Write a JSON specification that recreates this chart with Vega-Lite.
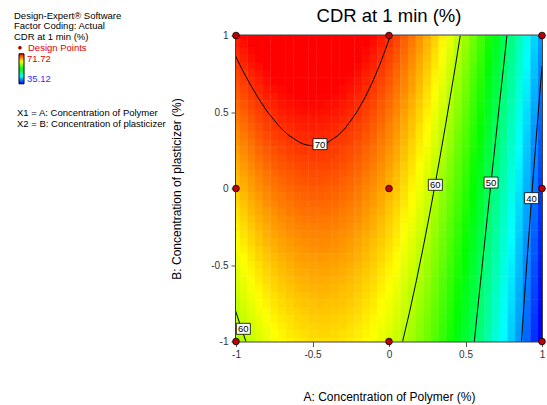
{
"$schema":"https://vega.github.io/schema/vega-lite/v6.json",
"padding":{"left":0,"top":5.5,"right":0,"bottom":0},
"background":"white",
"spacing":0,
"config":{"font":"Liberation Sans","view":{"stroke":"transparent"}},
"resolve":{"scale":{"color":"shared"},"legend":{"color":"shared"}},
"datasets":{
"notes":[{"line":0,"kind":"head","txt":"Design-Expert® Software"},{"line":1,"kind":"head","txt":"Factor Coding: Actual"},{"line":2,"kind":"head","txt":"CDR at 1 min (%)"},{"line":3,"kind":"dp","txt":"Design Points"},{"line":9,"kind":"var","txt":"X1 = A: Concentration of Polymer"},{"line":10,"kind":"var","txt":"X2 = B: Concentration of  plasticizer"}],
"design":[{"a":-1,"b":-1},{"a":0,"b":-1},{"a":1,"b":-1},{"a":-1,"b":0},{"a":0,"b":0},{"a":1,"b":0},{"a":-1,"b":1},{"a":0,"b":1},{"a":1,"b":1}],
"labels":[{"a":-0.451,"b":0.29,"t":"70"},{"a":0.303,"b":0.024,"t":"60"},{"a":0.667,"b":0.039,"t":"50"},{"a":0.932,"b":-0.063,"t":"40"},{"a":-0.952,"b":-0.917,"t":"60"}],
"contours":[
{"lvl":"70","i":0,"a":-1.065,"b":1.0},{"lvl":"70","i":1,"a":-1.019,"b":0.9},{"lvl":"70","i":2,"a":-0.971,"b":0.8},{"lvl":"70","i":3,"a":-0.918,"b":0.7},{"lvl":"70","i":4,"a":-0.860,"b":0.6},{"lvl":"70","i":5,"a":-0.794,"b":0.5},{"lvl":"70","i":6,"a":-0.712,"b":0.4},{"lvl":"70","i":7,"a":-0.659,"b":0.35},{"lvl":"70","i":8,"a":-0.582,"b":0.3},{"lvl":"70","i":9,"a":-0.557,"b":0.29},{"lvl":"70","i":10,"a":-0.541,"b":0.285},{"lvl":"70","i":11,"a":-0.49,"b":0.278},{"lvl":"70","i":12,"a":-0.44,"b":0.285},{"lvl":"70","i":13,"a":-0.424,"b":0.29},{"lvl":"70","i":14,"a":-0.401,"b":0.3},{"lvl":"70","i":15,"a":-0.329,"b":0.35},{"lvl":"70","i":16,"a":-0.281,"b":0.4},{"lvl":"70","i":17,"a":-0.21,"b":0.5},{"lvl":"70","i":18,"a":-0.154,"b":0.6},{"lvl":"70","i":19,"a":-0.106,"b":0.7},{"lvl":"70","i":20,"a":-0.064,"b":0.8},{"lvl":"70","i":21,"a":-0.026,"b":0.9},{"lvl":"70","i":22,"a":0.009,"b":1.0},
{"lvl":"60","i":0,"a":0.089,"b":-1},{"lvl":"60","i":1,"a":0.136,"b":-0.8},{"lvl":"60","i":2,"a":0.1795,"b":-0.6},{"lvl":"60","i":3,"a":0.2204,"b":-0.4},{"lvl":"60","i":4,"a":0.2593,"b":-0.2},{"lvl":"60","i":5,"a":0.2965,"b":0},{"lvl":"60","i":6,"a":0.3324,"b":0.2},{"lvl":"60","i":7,"a":0.3671,"b":0.4},{"lvl":"60","i":8,"a":0.4008,"b":0.6},{"lvl":"60","i":9,"a":0.4338,"b":0.8},{"lvl":"60","i":10,"a":0.4659,"b":1},
{"lvl":"60b","i":0,"a":-1.003,"b":-0.8},{"lvl":"60b","i":1,"a":-0.9696,"b":-0.9},{"lvl":"60b","i":2,"a":-0.935,"b":-1},
{"lvl":"50","i":0,"a":0.5575,"b":-1},{"lvl":"50","i":1,"a":0.5991,"b":-0.6},{"lvl":"50","i":2,"a":0.6412,"b":-0.2},{"lvl":"50","i":3,"a":0.6626,"b":0},{"lvl":"50","i":4,"a":0.6841,"b":0.2},{"lvl":"50","i":5,"a":0.7273,"b":0.6},{"lvl":"50","i":6,"a":0.7709,"b":1},
{"lvl":"40","i":0,"a":0.8657,"b":-1},{"lvl":"40","i":1,"a":0.8929,"b":-0.6},{"lvl":"40","i":2,"a":0.9218,"b":-0.2},{"lvl":"40","i":3,"a":0.9367,"b":0},{"lvl":"40","i":4,"a":0.9521,"b":0.2},{"lvl":"40","i":5,"a":0.9678,"b":0.4},{"lvl":"40","i":6,"a":0.9839,"b":0.6},{"lvl":"40","i":7,"a":0.992,"b":0.7},{"lvl":"40","i":8,"a":1.0002,"b":0.8}
],
"grid":[
{"a":-1,"b":-1,"v":59.0},{"a":-0.95,"b":-1,"v":59.8},{"a":-0.9,"b":-1,"v":60.5},{"a":-0.85,"b":-1,"v":61.1},{"a":-0.8,"b":-1,"v":61.7},{"a":-0.75,"b":-1,"v":62.2},{"a":-0.7,"b":-1,"v":62.7},{"a":-0.65,"b":-1,"v":63.0},{"a":-0.6,"b":-1,"v":63.3},{"a":-0.55,"b":-1,"v":63.5},{"a":-0.5,"b":-1,"v":63.7},{"a":-0.45,"b":-1,"v":63.7},{"a":-0.4,"b":-1,"v":63.7},{"a":-0.35,"b":-1,"v":63.7},{"a":-0.3,"b":-1,"v":63.5},{"a":-0.25,"b":-1,"v":63.3},{"a":-0.2,"b":-1,"v":63.0},{"a":-0.15,"b":-1,"v":62.7},{"a":-0.1,"b":-1,"v":62.3},{"a":-0.05,"b":-1,"v":61.8},{"a":0,"b":-1,"v":61.2},{"a":0.05,"b":-1,"v":60.5},{"a":0.1,"b":-1,"v":59.8},{"a":0.15,"b":-1,"v":59.1},{"a":0.2,"b":-1,"v":58.2},{"a":0.25,"b":-1,"v":57.3},{"a":0.3,"b":-1,"v":56.3},{"a":0.35,"b":-1,"v":55.2},{"a":0.4,"b":-1,"v":54.1},{"a":0.45,"b":-1,"v":52.8},{"a":0.5,"b":-1,"v":51.6},{"a":0.55,"b":-1,"v":50.2},{"a":0.6,"b":-1,"v":48.8},{"a":0.65,"b":-1,"v":47.3},{"a":0.7,"b":-1,"v":45.7},{"a":0.75,"b":-1,"v":44.1},{"a":0.8,"b":-1,"v":42.4},{"a":0.85,"b":-1,"v":40.6},{"a":0.9,"b":-1,"v":38.7},{"a":0.95,"b":-1,"v":36.8},{"a":1,"b":-1,"v":34.8},
{"a":-1,"b":-0.9,"v":59.5},{"a":-0.95,"b":-0.9,"v":60.3},{"a":-0.9,"b":-0.9,"v":61.0},{"a":-0.85,"b":-0.9,"v":61.6},{"a":-0.8,"b":-0.9,"v":62.2},{"a":-0.75,"b":-0.9,"v":62.7},{"a":-0.7,"b":-0.9,"v":63.1},{"a":-0.65,"b":-0.9,"v":63.5},{"a":-0.6,"b":-0.9,"v":63.8},{"a":-0.55,"b":-0.9,"v":64.0},{"a":-0.5,"b":-0.9,"v":64.1},{"a":-0.45,"b":-0.9,"v":64.2},{"a":-0.4,"b":-0.9,"v":64.2},{"a":-0.35,"b":-0.9,"v":64.1},{"a":-0.3,"b":-0.9,"v":64.0},{"a":-0.25,"b":-0.9,"v":63.7},{"a":-0.2,"b":-0.9,"v":63.4},{"a":-0.15,"b":-0.9,"v":63.1},{"a":-0.1,"b":-0.9,"v":62.7},{"a":-0.05,"b":-0.9,"v":62.1},{"a":0,"b":-0.9,"v":61.6},{"a":0.05,"b":-0.9,"v":60.9},{"a":0.1,"b":-0.9,"v":60.2},{"a":0.15,"b":-0.9,"v":59.4},{"a":0.2,"b":-0.9,"v":58.5},{"a":0.25,"b":-0.9,"v":57.6},{"a":0.3,"b":-0.9,"v":56.6},{"a":0.35,"b":-0.9,"v":55.5},{"a":0.4,"b":-0.9,"v":54.4},{"a":0.45,"b":-0.9,"v":53.2},{"a":0.5,"b":-0.9,"v":51.9},{"a":0.55,"b":-0.9,"v":50.5},{"a":0.6,"b":-0.9,"v":49.1},{"a":0.65,"b":-0.9,"v":47.6},{"a":0.7,"b":-0.9,"v":46.0},{"a":0.75,"b":-0.9,"v":44.3},{"a":0.8,"b":-0.9,"v":42.6},{"a":0.85,"b":-0.9,"v":40.8},{"a":0.9,"b":-0.9,"v":39.0},{"a":0.95,"b":-0.9,"v":37.0},{"a":1,"b":-0.9,"v":35.0},
{"a":-1,"b":-0.8,"v":60.1},{"a":-0.95,"b":-0.8,"v":60.8},{"a":-0.9,"b":-0.8,"v":61.5},{"a":-0.85,"b":-0.8,"v":62.2},{"a":-0.8,"b":-0.8,"v":62.7},{"a":-0.75,"b":-0.8,"v":63.2},{"a":-0.7,"b":-0.8,"v":63.6},{"a":-0.65,"b":-0.8,"v":64.0},{"a":-0.6,"b":-0.8,"v":64.2},{"a":-0.55,"b":-0.8,"v":64.4},{"a":-0.5,"b":-0.8,"v":64.6},{"a":-0.45,"b":-0.8,"v":64.6},{"a":-0.4,"b":-0.8,"v":64.6},{"a":-0.35,"b":-0.8,"v":64.5},{"a":-0.3,"b":-0.8,"v":64.4},{"a":-0.25,"b":-0.8,"v":64.2},{"a":-0.2,"b":-0.8,"v":63.9},{"a":-0.15,"b":-0.8,"v":63.5},{"a":-0.1,"b":-0.8,"v":63.1},{"a":-0.05,"b":-0.8,"v":62.5},{"a":0,"b":-0.8,"v":62.0},{"a":0.05,"b":-0.8,"v":61.3},{"a":0.1,"b":-0.8,"v":60.6},{"a":0.15,"b":-0.8,"v":59.8},{"a":0.2,"b":-0.8,"v":58.9},{"a":0.25,"b":-0.8,"v":58.0},{"a":0.3,"b":-0.8,"v":56.9},{"a":0.35,"b":-0.8,"v":55.9},{"a":0.4,"b":-0.8,"v":54.7},{"a":0.45,"b":-0.8,"v":53.5},{"a":0.5,"b":-0.8,"v":52.2},{"a":0.55,"b":-0.8,"v":50.8},{"a":0.6,"b":-0.8,"v":49.4},{"a":0.65,"b":-0.8,"v":47.9},{"a":0.7,"b":-0.8,"v":46.3},{"a":0.75,"b":-0.8,"v":44.6},{"a":0.8,"b":-0.8,"v":42.9},{"a":0.85,"b":-0.8,"v":41.1},{"a":0.9,"b":-0.8,"v":39.2},{"a":0.95,"b":-0.8,"v":37.3},{"a":1,"b":-0.8,"v":35.3},
{"a":-1,"b":-0.7,"v":60.6},{"a":-0.95,"b":-0.7,"v":61.4},{"a":-0.9,"b":-0.7,"v":62.1},{"a":-0.85,"b":-0.7,"v":62.7},{"a":-0.8,"b":-0.7,"v":63.2},{"a":-0.75,"b":-0.7,"v":63.7},{"a":-0.7,"b":-0.7,"v":64.1},{"a":-0.65,"b":-0.7,"v":64.5},{"a":-0.6,"b":-0.7,"v":64.7},{"a":-0.55,"b":-0.7,"v":64.9},{"a":-0.5,"b":-0.7,"v":65.0},{"a":-0.45,"b":-0.7,"v":65.1},{"a":-0.4,"b":-0.7,"v":65.1},{"a":-0.35,"b":-0.7,"v":65.0},{"a":-0.3,"b":-0.7,"v":64.8},{"a":-0.25,"b":-0.7,"v":64.6},{"a":-0.2,"b":-0.7,"v":64.3},{"a":-0.15,"b":-0.7,"v":63.9},{"a":-0.1,"b":-0.7,"v":63.5},{"a":-0.05,"b":-0.7,"v":62.9},{"a":0,"b":-0.7,"v":62.3},{"a":0.05,"b":-0.7,"v":61.7},{"a":0.1,"b":-0.7,"v":60.9},{"a":0.15,"b":-0.7,"v":60.1},{"a":0.2,"b":-0.7,"v":59.3},{"a":0.25,"b":-0.7,"v":58.3},{"a":0.3,"b":-0.7,"v":57.3},{"a":0.35,"b":-0.7,"v":56.2},{"a":0.4,"b":-0.7,"v":55.0},{"a":0.45,"b":-0.7,"v":53.8},{"a":0.5,"b":-0.7,"v":52.5},{"a":0.55,"b":-0.7,"v":51.1},{"a":0.6,"b":-0.7,"v":49.7},{"a":0.65,"b":-0.7,"v":48.1},{"a":0.7,"b":-0.7,"v":46.5},{"a":0.75,"b":-0.7,"v":44.9},{"a":0.8,"b":-0.7,"v":43.2},{"a":0.85,"b":-0.7,"v":41.3},{"a":0.9,"b":-0.7,"v":39.5},{"a":0.95,"b":-0.7,"v":37.5},{"a":1,"b":-0.7,"v":35.5},
{"a":-1,"b":-0.6,"v":61.1},{"a":-0.95,"b":-0.6,"v":61.9},{"a":-0.9,"b":-0.6,"v":62.6},{"a":-0.85,"b":-0.6,"v":63.2},{"a":-0.8,"b":-0.6,"v":63.8},{"a":-0.75,"b":-0.6,"v":64.2},{"a":-0.7,"b":-0.6,"v":64.6},{"a":-0.65,"b":-0.6,"v":65.0},{"a":-0.6,"b":-0.6,"v":65.2},{"a":-0.55,"b":-0.6,"v":65.4},{"a":-0.5,"b":-0.6,"v":65.5},{"a":-0.45,"b":-0.6,"v":65.6},{"a":-0.4,"b":-0.6,"v":65.5},{"a":-0.35,"b":-0.6,"v":65.4},{"a":-0.3,"b":-0.6,"v":65.3},{"a":-0.25,"b":-0.6,"v":65.0},{"a":-0.2,"b":-0.6,"v":64.7},{"a":-0.15,"b":-0.6,"v":64.3},{"a":-0.1,"b":-0.6,"v":63.9},{"a":-0.05,"b":-0.6,"v":63.3},{"a":0,"b":-0.6,"v":62.7},{"a":0.05,"b":-0.6,"v":62.1},{"a":0.1,"b":-0.6,"v":61.3},{"a":0.15,"b":-0.6,"v":60.5},{"a":0.2,"b":-0.6,"v":59.6},{"a":0.25,"b":-0.6,"v":58.7},{"a":0.3,"b":-0.6,"v":57.6},{"a":0.35,"b":-0.6,"v":56.5},{"a":0.4,"b":-0.6,"v":55.4},{"a":0.45,"b":-0.6,"v":54.1},{"a":0.5,"b":-0.6,"v":52.8},{"a":0.55,"b":-0.6,"v":51.4},{"a":0.6,"b":-0.6,"v":50.0},{"a":0.65,"b":-0.6,"v":48.4},{"a":0.7,"b":-0.6,"v":46.8},{"a":0.75,"b":-0.6,"v":45.2},{"a":0.8,"b":-0.6,"v":43.4},{"a":0.85,"b":-0.6,"v":41.6},{"a":0.9,"b":-0.6,"v":39.7},{"a":0.95,"b":-0.6,"v":37.8},{"a":1,"b":-0.6,"v":35.7},
{"a":-1,"b":-0.5,"v":61.7},{"a":-0.95,"b":-0.5,"v":62.4},{"a":-0.9,"b":-0.5,"v":63.1},{"a":-0.85,"b":-0.5,"v":63.7},{"a":-0.8,"b":-0.5,"v":64.3},{"a":-0.75,"b":-0.5,"v":64.7},{"a":-0.7,"b":-0.5,"v":65.1},{"a":-0.65,"b":-0.5,"v":65.5},{"a":-0.6,"b":-0.5,"v":65.7},{"a":-0.55,"b":-0.5,"v":65.9},{"a":-0.5,"b":-0.5,"v":66.0},{"a":-0.45,"b":-0.5,"v":66.0},{"a":-0.4,"b":-0.5,"v":66.0},{"a":-0.35,"b":-0.5,"v":65.9},{"a":-0.3,"b":-0.5,"v":65.7},{"a":-0.25,"b":-0.5,"v":65.5},{"a":-0.2,"b":-0.5,"v":65.1},{"a":-0.15,"b":-0.5,"v":64.8},{"a":-0.1,"b":-0.5,"v":64.3},{"a":-0.05,"b":-0.5,"v":63.7},{"a":0,"b":-0.5,"v":63.1},{"a":0.05,"b":-0.5,"v":62.5},{"a":0.1,"b":-0.5,"v":61.7},{"a":0.15,"b":-0.5,"v":60.9},{"a":0.2,"b":-0.5,"v":60.0},{"a":0.25,"b":-0.5,"v":59.0},{"a":0.3,"b":-0.5,"v":58.0},{"a":0.35,"b":-0.5,"v":56.9},{"a":0.4,"b":-0.5,"v":55.7},{"a":0.45,"b":-0.5,"v":54.5},{"a":0.5,"b":-0.5,"v":53.2},{"a":0.55,"b":-0.5,"v":51.7},{"a":0.6,"b":-0.5,"v":50.3},{"a":0.65,"b":-0.5,"v":48.8},{"a":0.7,"b":-0.5,"v":47.1},{"a":0.75,"b":-0.5,"v":45.5},{"a":0.8,"b":-0.5,"v":43.7},{"a":0.85,"b":-0.5,"v":41.9},{"a":0.9,"b":-0.5,"v":40.0},{"a":0.95,"b":-0.5,"v":38.0},{"a":1,"b":-0.5,"v":36.0},
{"a":-1,"b":-0.4,"v":62.3},{"a":-0.95,"b":-0.4,"v":63.0},{"a":-0.9,"b":-0.4,"v":63.7},{"a":-0.85,"b":-0.4,"v":64.3},{"a":-0.8,"b":-0.4,"v":64.8},{"a":-0.75,"b":-0.4,"v":65.3},{"a":-0.7,"b":-0.4,"v":65.7},{"a":-0.65,"b":-0.4,"v":66.0},{"a":-0.6,"b":-0.4,"v":66.2},{"a":-0.55,"b":-0.4,"v":66.4},{"a":-0.5,"b":-0.4,"v":66.5},{"a":-0.45,"b":-0.4,"v":66.5},{"a":-0.4,"b":-0.4,"v":66.5},{"a":-0.35,"b":-0.4,"v":66.4},{"a":-0.3,"b":-0.4,"v":66.2},{"a":-0.25,"b":-0.4,"v":65.9},{"a":-0.2,"b":-0.4,"v":65.6},{"a":-0.15,"b":-0.4,"v":65.2},{"a":-0.1,"b":-0.4,"v":64.7},{"a":-0.05,"b":-0.4,"v":64.2},{"a":0,"b":-0.4,"v":63.6},{"a":0.05,"b":-0.4,"v":62.9},{"a":0.1,"b":-0.4,"v":62.1},{"a":0.15,"b":-0.4,"v":61.3},{"a":0.2,"b":-0.4,"v":60.4},{"a":0.25,"b":-0.4,"v":59.4},{"a":0.3,"b":-0.4,"v":58.4},{"a":0.35,"b":-0.4,"v":57.3},{"a":0.4,"b":-0.4,"v":56.1},{"a":0.45,"b":-0.4,"v":54.8},{"a":0.5,"b":-0.4,"v":53.5},{"a":0.55,"b":-0.4,"v":52.1},{"a":0.6,"b":-0.4,"v":50.6},{"a":0.65,"b":-0.4,"v":49.1},{"a":0.7,"b":-0.4,"v":47.5},{"a":0.75,"b":-0.4,"v":45.8},{"a":0.8,"b":-0.4,"v":44.0},{"a":0.85,"b":-0.4,"v":42.2},{"a":0.9,"b":-0.4,"v":40.3},{"a":0.95,"b":-0.4,"v":38.3},{"a":1,"b":-0.4,"v":36.3},
{"a":-1,"b":-0.3,"v":62.8},{"a":-0.95,"b":-0.3,"v":63.6},{"a":-0.9,"b":-0.3,"v":64.2},{"a":-0.85,"b":-0.3,"v":64.8},{"a":-0.8,"b":-0.3,"v":65.4},{"a":-0.75,"b":-0.3,"v":65.8},{"a":-0.7,"b":-0.3,"v":66.2},{"a":-0.65,"b":-0.3,"v":66.5},{"a":-0.6,"b":-0.3,"v":66.7},{"a":-0.55,"b":-0.3,"v":66.9},{"a":-0.5,"b":-0.3,"v":67.0},{"a":-0.45,"b":-0.3,"v":67.0},{"a":-0.4,"b":-0.3,"v":67.0},{"a":-0.35,"b":-0.3,"v":66.8},{"a":-0.3,"b":-0.3,"v":66.6},{"a":-0.25,"b":-0.3,"v":66.4},{"a":-0.2,"b":-0.3,"v":66.0},{"a":-0.15,"b":-0.3,"v":65.6},{"a":-0.1,"b":-0.3,"v":65.2},{"a":-0.05,"b":-0.3,"v":64.6},{"a":0,"b":-0.3,"v":64.0},{"a":0.05,"b":-0.3,"v":63.3},{"a":0.1,"b":-0.3,"v":62.5},{"a":0.15,"b":-0.3,"v":61.7},{"a":0.2,"b":-0.3,"v":60.8},{"a":0.25,"b":-0.3,"v":59.8},{"a":0.3,"b":-0.3,"v":58.7},{"a":0.35,"b":-0.3,"v":57.6},{"a":0.4,"b":-0.3,"v":56.4},{"a":0.45,"b":-0.3,"v":55.2},{"a":0.5,"b":-0.3,"v":53.8},{"a":0.55,"b":-0.3,"v":52.4},{"a":0.6,"b":-0.3,"v":50.9},{"a":0.65,"b":-0.3,"v":49.4},{"a":0.7,"b":-0.3,"v":47.8},{"a":0.75,"b":-0.3,"v":46.1},{"a":0.8,"b":-0.3,"v":44.3},{"a":0.85,"b":-0.3,"v":42.5},{"a":0.9,"b":-0.3,"v":40.6},{"a":0.95,"b":-0.3,"v":38.6},{"a":1,"b":-0.3,"v":36.5},
{"a":-1,"b":-0.2,"v":63.4},{"a":-0.95,"b":-0.2,"v":64.1},{"a":-0.9,"b":-0.2,"v":64.8},{"a":-0.85,"b":-0.2,"v":65.4},{"a":-0.8,"b":-0.2,"v":65.9},{"a":-0.75,"b":-0.2,"v":66.3},{"a":-0.7,"b":-0.2,"v":66.7},{"a":-0.65,"b":-0.2,"v":67.0},{"a":-0.6,"b":-0.2,"v":67.2},{"a":-0.55,"b":-0.2,"v":67.4},{"a":-0.5,"b":-0.2,"v":67.5},{"a":-0.45,"b":-0.2,"v":67.5},{"a":-0.4,"b":-0.2,"v":67.4},{"a":-0.35,"b":-0.2,"v":67.3},{"a":-0.3,"b":-0.2,"v":67.1},{"a":-0.25,"b":-0.2,"v":66.8},{"a":-0.2,"b":-0.2,"v":66.5},{"a":-0.15,"b":-0.2,"v":66.1},{"a":-0.1,"b":-0.2,"v":65.6},{"a":-0.05,"b":-0.2,"v":65.0},{"a":0,"b":-0.2,"v":64.4},{"a":0.05,"b":-0.2,"v":63.7},{"a":0.1,"b":-0.2,"v":62.9},{"a":0.15,"b":-0.2,"v":62.1},{"a":0.2,"b":-0.2,"v":61.2},{"a":0.25,"b":-0.2,"v":60.2},{"a":0.3,"b":-0.2,"v":59.1},{"a":0.35,"b":-0.2,"v":58.0},{"a":0.4,"b":-0.2,"v":56.8},{"a":0.45,"b":-0.2,"v":55.5},{"a":0.5,"b":-0.2,"v":54.2},{"a":0.55,"b":-0.2,"v":52.8},{"a":0.6,"b":-0.2,"v":51.3},{"a":0.65,"b":-0.2,"v":49.7},{"a":0.7,"b":-0.2,"v":48.1},{"a":0.75,"b":-0.2,"v":46.4},{"a":0.8,"b":-0.2,"v":44.6},{"a":0.85,"b":-0.2,"v":42.8},{"a":0.9,"b":-0.2,"v":40.9},{"a":0.95,"b":-0.2,"v":38.9},{"a":1,"b":-0.2,"v":36.8},
{"a":-1,"b":-0.1,"v":64.0},{"a":-0.95,"b":-0.1,"v":64.7},{"a":-0.9,"b":-0.1,"v":65.4},{"a":-0.85,"b":-0.1,"v":65.9},{"a":-0.8,"b":-0.1,"v":66.5},{"a":-0.75,"b":-0.1,"v":66.9},{"a":-0.7,"b":-0.1,"v":67.3},{"a":-0.65,"b":-0.1,"v":67.5},{"a":-0.6,"b":-0.1,"v":67.8},{"a":-0.55,"b":-0.1,"v":67.9},{"a":-0.5,"b":-0.1,"v":68.0},{"a":-0.45,"b":-0.1,"v":68.0},{"a":-0.4,"b":-0.1,"v":67.9},{"a":-0.35,"b":-0.1,"v":67.8},{"a":-0.3,"b":-0.1,"v":67.6},{"a":-0.25,"b":-0.1,"v":67.3},{"a":-0.2,"b":-0.1,"v":67.0},{"a":-0.15,"b":-0.1,"v":66.5},{"a":-0.1,"b":-0.1,"v":66.1},{"a":-0.05,"b":-0.1,"v":65.5},{"a":0,"b":-0.1,"v":64.8},{"a":0.05,"b":-0.1,"v":64.1},{"a":0.1,"b":-0.1,"v":63.4},{"a":0.15,"b":-0.1,"v":62.5},{"a":0.2,"b":-0.1,"v":61.6},{"a":0.25,"b":-0.1,"v":60.6},{"a":0.3,"b":-0.1,"v":59.5},{"a":0.35,"b":-0.1,"v":58.4},{"a":0.4,"b":-0.1,"v":57.2},{"a":0.45,"b":-0.1,"v":55.9},{"a":0.5,"b":-0.1,"v":54.6},{"a":0.55,"b":-0.1,"v":53.1},{"a":0.6,"b":-0.1,"v":51.6},{"a":0.65,"b":-0.1,"v":50.1},{"a":0.7,"b":-0.1,"v":48.4},{"a":0.75,"b":-0.1,"v":46.7},{"a":0.8,"b":-0.1,"v":44.9},{"a":0.85,"b":-0.1,"v":43.1},{"a":0.9,"b":-0.1,"v":41.2},{"a":0.95,"b":-0.1,"v":39.2},{"a":1,"b":-0.1,"v":37.1},
{"a":-1,"b":0,"v":64.6},{"a":-0.95,"b":0,"v":65.3},{"a":-0.9,"b":0,"v":66.0},{"a":-0.85,"b":0,"v":66.5},{"a":-0.8,"b":0,"v":67.0},{"a":-0.75,"b":0,"v":67.5},{"a":-0.7,"b":0,"v":67.8},{"a":-0.65,"b":0,"v":68.1},{"a":-0.6,"b":0,"v":68.3},{"a":-0.55,"b":0,"v":68.4},{"a":-0.5,"b":0,"v":68.5},{"a":-0.45,"b":0,"v":68.5},{"a":-0.4,"b":0,"v":68.4},{"a":-0.35,"b":0,"v":68.3},{"a":-0.3,"b":0,"v":68.1},{"a":-0.25,"b":0,"v":67.8},{"a":-0.2,"b":0,"v":67.4},{"a":-0.15,"b":0,"v":67.0},{"a":-0.1,"b":0,"v":66.5},{"a":-0.05,"b":0,"v":65.9},{"a":0,"b":0,"v":65.3},{"a":0.05,"b":0,"v":64.6},{"a":0.1,"b":0,"v":63.8},{"a":0.15,"b":0,"v":62.9},{"a":0.2,"b":0,"v":62.0},{"a":0.25,"b":0,"v":61.0},{"a":0.3,"b":0,"v":59.9},{"a":0.35,"b":0,"v":58.8},{"a":0.4,"b":0,"v":57.6},{"a":0.45,"b":0,"v":56.3},{"a":0.5,"b":0,"v":54.9},{"a":0.55,"b":0,"v":53.5},{"a":0.6,"b":0,"v":52.0},{"a":0.65,"b":0,"v":50.4},{"a":0.7,"b":0,"v":48.8},{"a":0.75,"b":0,"v":47.1},{"a":0.8,"b":0,"v":45.3},{"a":0.85,"b":0,"v":43.4},{"a":0.9,"b":0,"v":41.5},{"a":0.95,"b":0,"v":39.5},{"a":1,"b":0,"v":37.4},
{"a":-1,"b":0.1,"v":65.2},{"a":-0.95,"b":0.1,"v":65.9},{"a":-0.9,"b":0.1,"v":66.5},{"a":-0.85,"b":0.1,"v":67.1},{"a":-0.8,"b":0.1,"v":67.6},{"a":-0.75,"b":0.1,"v":68.0},{"a":-0.7,"b":0.1,"v":68.4},{"a":-0.65,"b":0.1,"v":68.6},{"a":-0.6,"b":0.1,"v":68.8},{"a":-0.55,"b":0.1,"v":69.0},{"a":-0.5,"b":0.1,"v":69.0},{"a":-0.45,"b":0.1,"v":69.0},{"a":-0.4,"b":0.1,"v":69.0},{"a":-0.35,"b":0.1,"v":68.8},{"a":-0.3,"b":0.1,"v":68.6},{"a":-0.25,"b":0.1,"v":68.3},{"a":-0.2,"b":0.1,"v":67.9},{"a":-0.15,"b":0.1,"v":67.5},{"a":-0.1,"b":0.1,"v":67.0},{"a":-0.05,"b":0.1,"v":66.4},{"a":0,"b":0.1,"v":65.7},{"a":0.05,"b":0.1,"v":65.0},{"a":0.1,"b":0.1,"v":64.2},{"a":0.15,"b":0.1,"v":63.4},{"a":0.2,"b":0.1,"v":62.4},{"a":0.25,"b":0.1,"v":61.4},{"a":0.3,"b":0.1,"v":60.3},{"a":0.35,"b":0.1,"v":59.2},{"a":0.4,"b":0.1,"v":58.0},{"a":0.45,"b":0.1,"v":56.7},{"a":0.5,"b":0.1,"v":55.3},{"a":0.55,"b":0.1,"v":53.8},{"a":0.6,"b":0.1,"v":52.3},{"a":0.65,"b":0.1,"v":50.8},{"a":0.7,"b":0.1,"v":49.1},{"a":0.75,"b":0.1,"v":47.4},{"a":0.8,"b":0.1,"v":45.6},{"a":0.85,"b":0.1,"v":43.7},{"a":0.9,"b":0.1,"v":41.8},{"a":0.95,"b":0.1,"v":39.8},{"a":1,"b":0.1,"v":37.7},
{"a":-1,"b":0.2,"v":65.8},{"a":-0.95,"b":0.2,"v":66.5},{"a":-0.9,"b":0.2,"v":67.1},{"a":-0.85,"b":0.2,"v":67.7},{"a":-0.8,"b":0.2,"v":68.2},{"a":-0.75,"b":0.2,"v":68.6},{"a":-0.7,"b":0.2,"v":68.9},{"a":-0.65,"b":0.2,"v":69.2},{"a":-0.6,"b":0.2,"v":69.4},{"a":-0.55,"b":0.2,"v":69.5},{"a":-0.5,"b":0.2,"v":69.6},{"a":-0.45,"b":0.2,"v":69.6},{"a":-0.4,"b":0.2,"v":69.5},{"a":-0.35,"b":0.2,"v":69.3},{"a":-0.3,"b":0.2,"v":69.1},{"a":-0.25,"b":0.2,"v":68.8},{"a":-0.2,"b":0.2,"v":68.4},{"a":-0.15,"b":0.2,"v":68.0},{"a":-0.1,"b":0.2,"v":67.5},{"a":-0.05,"b":0.2,"v":66.9},{"a":0,"b":0.2,"v":66.2},{"a":0.05,"b":0.2,"v":65.5},{"a":0.1,"b":0.2,"v":64.7},{"a":0.15,"b":0.2,"v":63.8},{"a":0.2,"b":0.2,"v":62.9},{"a":0.25,"b":0.2,"v":61.8},{"a":0.3,"b":0.2,"v":60.7},{"a":0.35,"b":0.2,"v":59.6},{"a":0.4,"b":0.2,"v":58.4},{"a":0.45,"b":0.2,"v":57.0},{"a":0.5,"b":0.2,"v":55.7},{"a":0.55,"b":0.2,"v":54.2},{"a":0.6,"b":0.2,"v":52.7},{"a":0.65,"b":0.2,"v":51.1},{"a":0.7,"b":0.2,"v":49.5},{"a":0.75,"b":0.2,"v":47.7},{"a":0.8,"b":0.2,"v":45.9},{"a":0.85,"b":0.2,"v":44.1},{"a":0.9,"b":0.2,"v":42.1},{"a":0.95,"b":0.2,"v":40.1},{"a":1,"b":0.2,"v":38.0},
{"a":-1,"b":0.3,"v":66.4},{"a":-0.95,"b":0.3,"v":67.1},{"a":-0.9,"b":0.3,"v":67.7},{"a":-0.85,"b":0.3,"v":68.3},{"a":-0.8,"b":0.3,"v":68.8},{"a":-0.75,"b":0.3,"v":69.2},{"a":-0.7,"b":0.3,"v":69.5},{"a":-0.65,"b":0.3,"v":69.8},{"a":-0.6,"b":0.3,"v":69.9},{"a":-0.55,"b":0.3,"v":70.1},{"a":-0.5,"b":0.3,"v":70.1},{"a":-0.45,"b":0.3,"v":70.1},{"a":-0.4,"b":0.3,"v":70.0},{"a":-0.35,"b":0.3,"v":69.8},{"a":-0.3,"b":0.3,"v":69.6},{"a":-0.25,"b":0.3,"v":69.3},{"a":-0.2,"b":0.3,"v":68.9},{"a":-0.15,"b":0.3,"v":68.5},{"a":-0.1,"b":0.3,"v":67.9},{"a":-0.05,"b":0.3,"v":67.3},{"a":0,"b":0.3,"v":66.7},{"a":0.05,"b":0.3,"v":65.9},{"a":0.1,"b":0.3,"v":65.1},{"a":0.15,"b":0.3,"v":64.2},{"a":0.2,"b":0.3,"v":63.3},{"a":0.25,"b":0.3,"v":62.3},{"a":0.3,"b":0.3,"v":61.2},{"a":0.35,"b":0.3,"v":60.0},{"a":0.4,"b":0.3,"v":58.8},{"a":0.45,"b":0.3,"v":57.4},{"a":0.5,"b":0.3,"v":56.1},{"a":0.55,"b":0.3,"v":54.6},{"a":0.6,"b":0.3,"v":53.1},{"a":0.65,"b":0.3,"v":51.5},{"a":0.7,"b":0.3,"v":49.8},{"a":0.75,"b":0.3,"v":48.1},{"a":0.8,"b":0.3,"v":46.3},{"a":0.85,"b":0.3,"v":44.4},{"a":0.9,"b":0.3,"v":42.4},{"a":0.95,"b":0.3,"v":40.4},{"a":1,"b":0.3,"v":38.3},
{"a":-1,"b":0.4,"v":67.0},{"a":-0.95,"b":0.4,"v":67.7},{"a":-0.9,"b":0.4,"v":68.3},{"a":-0.85,"b":0.4,"v":68.9},{"a":-0.8,"b":0.4,"v":69.4},{"a":-0.75,"b":0.4,"v":69.8},{"a":-0.7,"b":0.4,"v":70.1},{"a":-0.65,"b":0.4,"v":70.3},{"a":-0.6,"b":0.4,"v":70.5},{"a":-0.55,"b":0.4,"v":70.6},{"a":-0.5,"b":0.4,"v":70.7},{"a":-0.45,"b":0.4,"v":70.6},{"a":-0.4,"b":0.4,"v":70.5},{"a":-0.35,"b":0.4,"v":70.4},{"a":-0.3,"b":0.4,"v":70.1},{"a":-0.25,"b":0.4,"v":69.8},{"a":-0.2,"b":0.4,"v":69.4},{"a":-0.15,"b":0.4,"v":69.0},{"a":-0.1,"b":0.4,"v":68.4},{"a":-0.05,"b":0.4,"v":67.8},{"a":0,"b":0.4,"v":67.1},{"a":0.05,"b":0.4,"v":66.4},{"a":0.1,"b":0.4,"v":65.6},{"a":0.15,"b":0.4,"v":64.7},{"a":0.2,"b":0.4,"v":63.7},{"a":0.25,"b":0.4,"v":62.7},{"a":0.3,"b":0.4,"v":61.6},{"a":0.35,"b":0.4,"v":60.4},{"a":0.4,"b":0.4,"v":59.2},{"a":0.45,"b":0.4,"v":57.9},{"a":0.5,"b":0.4,"v":56.5},{"a":0.55,"b":0.4,"v":55.0},{"a":0.6,"b":0.4,"v":53.5},{"a":0.65,"b":0.4,"v":51.9},{"a":0.7,"b":0.4,"v":50.2},{"a":0.75,"b":0.4,"v":48.5},{"a":0.8,"b":0.4,"v":46.6},{"a":0.85,"b":0.4,"v":44.7},{"a":0.9,"b":0.4,"v":42.8},{"a":0.95,"b":0.4,"v":40.7},{"a":1,"b":0.4,"v":38.6},
{"a":-1,"b":0.5,"v":67.7},{"a":-0.95,"b":0.5,"v":68.3},{"a":-0.9,"b":0.5,"v":69.0},{"a":-0.85,"b":0.5,"v":69.5},{"a":-0.8,"b":0.5,"v":70.0},{"a":-0.75,"b":0.5,"v":70.3},{"a":-0.7,"b":0.5,"v":70.7},{"a":-0.65,"b":0.5,"v":70.9},{"a":-0.6,"b":0.5,"v":71.1},{"a":-0.55,"b":0.5,"v":71.2},{"a":-0.5,"b":0.5,"v":71.2},{"a":-0.45,"b":0.5,"v":71.2},{"a":-0.4,"b":0.5,"v":71.1},{"a":-0.35,"b":0.5,"v":70.9},{"a":-0.3,"b":0.5,"v":70.6},{"a":-0.25,"b":0.5,"v":70.3},{"a":-0.2,"b":0.5,"v":69.9},{"a":-0.15,"b":0.5,"v":69.5},{"a":-0.1,"b":0.5,"v":68.9},{"a":-0.05,"b":0.5,"v":68.3},{"a":0,"b":0.5,"v":67.6},{"a":0.05,"b":0.5,"v":66.9},{"a":0.1,"b":0.5,"v":66.0},{"a":0.15,"b":0.5,"v":65.1},{"a":0.2,"b":0.5,"v":64.2},{"a":0.25,"b":0.5,"v":63.1},{"a":0.3,"b":0.5,"v":62.0},{"a":0.35,"b":0.5,"v":60.8},{"a":0.4,"b":0.5,"v":59.6},{"a":0.45,"b":0.5,"v":58.3},{"a":0.5,"b":0.5,"v":56.9},{"a":0.55,"b":0.5,"v":55.4},{"a":0.6,"b":0.5,"v":53.9},{"a":0.65,"b":0.5,"v":52.3},{"a":0.7,"b":0.5,"v":50.6},{"a":0.75,"b":0.5,"v":48.8},{"a":0.8,"b":0.5,"v":47.0},{"a":0.85,"b":0.5,"v":45.1},{"a":0.9,"b":0.5,"v":43.1},{"a":0.95,"b":0.5,"v":41.1},{"a":1,"b":0.5,"v":39.0},
{"a":-1,"b":0.6,"v":68.3},{"a":-0.95,"b":0.6,"v":69.0},{"a":-0.9,"b":0.6,"v":69.6},{"a":-0.85,"b":0.6,"v":70.1},{"a":-0.8,"b":0.6,"v":70.6},{"a":-0.75,"b":0.6,"v":70.9},{"a":-0.7,"b":0.6,"v":71.3},{"a":-0.65,"b":0.6,"v":71.5},{"a":-0.6,"b":0.6,"v":71.7},{"a":-0.55,"b":0.6,"v":71.8},{"a":-0.5,"b":0.6,"v":71.8},{"a":-0.45,"b":0.6,"v":71.7},{"a":-0.4,"b":0.6,"v":71.6},{"a":-0.35,"b":0.6,"v":71.4},{"a":-0.3,"b":0.6,"v":71.2},{"a":-0.25,"b":0.6,"v":70.8},{"a":-0.2,"b":0.6,"v":70.4},{"a":-0.15,"b":0.6,"v":70.0},{"a":-0.1,"b":0.6,"v":69.4},{"a":-0.05,"b":0.6,"v":68.8},{"a":0,"b":0.6,"v":68.1},{"a":0.05,"b":0.6,"v":67.3},{"a":0.1,"b":0.6,"v":66.5},{"a":0.15,"b":0.6,"v":65.6},{"a":0.2,"b":0.6,"v":64.6},{"a":0.25,"b":0.6,"v":63.6},{"a":0.3,"b":0.6,"v":62.5},{"a":0.35,"b":0.6,"v":61.3},{"a":0.4,"b":0.6,"v":60.0},{"a":0.45,"b":0.6,"v":58.7},{"a":0.5,"b":0.6,"v":57.3},{"a":0.55,"b":0.6,"v":55.8},{"a":0.6,"b":0.6,"v":54.3},{"a":0.65,"b":0.6,"v":52.6},{"a":0.7,"b":0.6,"v":51.0},{"a":0.75,"b":0.6,"v":49.2},{"a":0.8,"b":0.6,"v":47.4},{"a":0.85,"b":0.6,"v":45.5},{"a":0.9,"b":0.6,"v":43.5},{"a":0.95,"b":0.6,"v":41.4},{"a":1,"b":0.6,"v":39.3},
{"a":-1,"b":0.7,"v":69.0},{"a":-0.95,"b":0.7,"v":69.6},{"a":-0.9,"b":0.7,"v":70.2},{"a":-0.85,"b":0.7,"v":70.7},{"a":-0.8,"b":0.7,"v":71.2},{"a":-0.75,"b":0.7,"v":71.6},{"a":-0.7,"b":0.7,"v":71.9},{"a":-0.65,"b":0.7,"v":72.1},{"a":-0.6,"b":0.7,"v":72.2},{"a":-0.55,"b":0.7,"v":72.3},{"a":-0.5,"b":0.7,"v":72.4},{"a":-0.45,"b":0.7,"v":72.3},{"a":-0.4,"b":0.7,"v":72.2},{"a":-0.35,"b":0.7,"v":72.0},{"a":-0.3,"b":0.7,"v":71.7},{"a":-0.25,"b":0.7,"v":71.4},{"a":-0.2,"b":0.7,"v":71.0},{"a":-0.15,"b":0.7,"v":70.5},{"a":-0.1,"b":0.7,"v":69.9},{"a":-0.05,"b":0.7,"v":69.3},{"a":0,"b":0.7,"v":68.6},{"a":0.05,"b":0.7,"v":67.8},{"a":0.1,"b":0.7,"v":67.0},{"a":0.15,"b":0.7,"v":66.1},{"a":0.2,"b":0.7,"v":65.1},{"a":0.25,"b":0.7,"v":64.1},{"a":0.3,"b":0.7,"v":62.9},{"a":0.35,"b":0.7,"v":61.7},{"a":0.4,"b":0.7,"v":60.5},{"a":0.45,"b":0.7,"v":59.1},{"a":0.5,"b":0.7,"v":57.7},{"a":0.55,"b":0.7,"v":56.2},{"a":0.6,"b":0.7,"v":54.7},{"a":0.65,"b":0.7,"v":53.0},{"a":0.7,"b":0.7,"v":51.3},{"a":0.75,"b":0.7,"v":49.6},{"a":0.8,"b":0.7,"v":47.7},{"a":0.85,"b":0.7,"v":45.8},{"a":0.9,"b":0.7,"v":43.8},{"a":0.95,"b":0.7,"v":41.8},{"a":1,"b":0.7,"v":39.7},
{"a":-1,"b":0.8,"v":69.6},{"a":-0.95,"b":0.8,"v":70.3},{"a":-0.9,"b":0.8,"v":70.9},{"a":-0.85,"b":0.8,"v":71.4},{"a":-0.8,"b":0.8,"v":71.8},{"a":-0.75,"b":0.8,"v":72.2},{"a":-0.7,"b":0.8,"v":72.5},{"a":-0.65,"b":0.8,"v":72.7},{"a":-0.6,"b":0.8,"v":72.8},{"a":-0.55,"b":0.8,"v":72.9},{"a":-0.5,"b":0.8,"v":72.9},{"a":-0.45,"b":0.8,"v":72.9},{"a":-0.4,"b":0.8,"v":72.7},{"a":-0.35,"b":0.8,"v":72.5},{"a":-0.3,"b":0.8,"v":72.3},{"a":-0.25,"b":0.8,"v":71.9},{"a":-0.2,"b":0.8,"v":71.5},{"a":-0.15,"b":0.8,"v":71.0},{"a":-0.1,"b":0.8,"v":70.5},{"a":-0.05,"b":0.8,"v":69.8},{"a":0,"b":0.8,"v":69.1},{"a":0.05,"b":0.8,"v":68.3},{"a":0.1,"b":0.8,"v":67.5},{"a":0.15,"b":0.8,"v":66.6},{"a":0.2,"b":0.8,"v":65.6},{"a":0.25,"b":0.8,"v":64.5},{"a":0.3,"b":0.8,"v":63.4},{"a":0.35,"b":0.8,"v":62.2},{"a":0.4,"b":0.8,"v":60.9},{"a":0.45,"b":0.8,"v":59.6},{"a":0.5,"b":0.8,"v":58.1},{"a":0.55,"b":0.8,"v":56.6},{"a":0.6,"b":0.8,"v":55.1},{"a":0.65,"b":0.8,"v":53.5},{"a":0.7,"b":0.8,"v":51.7},{"a":0.75,"b":0.8,"v":50.0},{"a":0.8,"b":0.8,"v":48.1},{"a":0.85,"b":0.8,"v":46.2},{"a":0.9,"b":0.8,"v":44.2},{"a":0.95,"b":0.8,"v":42.1},{"a":1,"b":0.8,"v":40.0},
{"a":-1,"b":0.9,"v":70.3},{"a":-0.95,"b":0.9,"v":70.9},{"a":-0.9,"b":0.9,"v":71.5},{"a":-0.85,"b":0.9,"v":72.0},{"a":-0.8,"b":0.9,"v":72.4},{"a":-0.75,"b":0.9,"v":72.8},{"a":-0.7,"b":0.9,"v":73.1},{"a":-0.65,"b":0.9,"v":73.3},{"a":-0.6,"b":0.9,"v":73.4},{"a":-0.55,"b":0.9,"v":73.5},{"a":-0.5,"b":0.9,"v":73.5},{"a":-0.45,"b":0.9,"v":73.4},{"a":-0.4,"b":0.9,"v":73.3},{"a":-0.35,"b":0.9,"v":73.1},{"a":-0.3,"b":0.9,"v":72.8},{"a":-0.25,"b":0.9,"v":72.5},{"a":-0.2,"b":0.9,"v":72.0},{"a":-0.15,"b":0.9,"v":71.5},{"a":-0.1,"b":0.9,"v":71.0},{"a":-0.05,"b":0.9,"v":70.3},{"a":0,"b":0.9,"v":69.6},{"a":0.05,"b":0.9,"v":68.8},{"a":0.1,"b":0.9,"v":68.0},{"a":0.15,"b":0.9,"v":67.1},{"a":0.2,"b":0.9,"v":66.1},{"a":0.25,"b":0.9,"v":65.0},{"a":0.3,"b":0.9,"v":63.8},{"a":0.35,"b":0.9,"v":62.6},{"a":0.4,"b":0.9,"v":61.4},{"a":0.45,"b":0.9,"v":60.0},{"a":0.5,"b":0.9,"v":58.6},{"a":0.55,"b":0.9,"v":57.1},{"a":0.6,"b":0.9,"v":55.5},{"a":0.65,"b":0.9,"v":53.9},{"a":0.7,"b":0.9,"v":52.1},{"a":0.75,"b":0.9,"v":50.4},{"a":0.8,"b":0.9,"v":48.5},{"a":0.85,"b":0.9,"v":46.6},{"a":0.9,"b":0.9,"v":44.6},{"a":0.95,"b":0.9,"v":42.5},{"a":1,"b":0.9,"v":40.4},
{"a":-1,"b":1,"v":70.9},{"a":-0.95,"b":1,"v":71.6},{"a":-0.9,"b":1,"v":72.2},{"a":-0.85,"b":1,"v":72.6},{"a":-0.8,"b":1,"v":73.1},{"a":-0.75,"b":1,"v":73.4},{"a":-0.7,"b":1,"v":73.7},{"a":-0.65,"b":1,"v":73.9},{"a":-0.6,"b":1,"v":74.0},{"a":-0.55,"b":1,"v":74.1},{"a":-0.5,"b":1,"v":74.1},{"a":-0.45,"b":1,"v":74.0},{"a":-0.4,"b":1,"v":73.9},{"a":-0.35,"b":1,"v":73.7},{"a":-0.3,"b":1,"v":73.4},{"a":-0.25,"b":1,"v":73.0},{"a":-0.2,"b":1,"v":72.6},{"a":-0.15,"b":1,"v":72.1},{"a":-0.1,"b":1,"v":71.5},{"a":-0.05,"b":1,"v":70.9},{"a":0,"b":1,"v":70.1},{"a":0.05,"b":1,"v":69.3},{"a":0.1,"b":1,"v":68.5},{"a":0.15,"b":1,"v":67.6},{"a":0.2,"b":1,"v":66.5},{"a":0.25,"b":1,"v":65.5},{"a":0.3,"b":1,"v":64.3},{"a":0.35,"b":1,"v":63.1},{"a":0.4,"b":1,"v":61.8},{"a":0.45,"b":1,"v":60.4},{"a":0.5,"b":1,"v":59.0},{"a":0.55,"b":1,"v":57.5},{"a":0.6,"b":1,"v":55.9},{"a":0.65,"b":1,"v":54.3},{"a":0.7,"b":1,"v":52.6},{"a":0.75,"b":1,"v":50.8},{"a":0.8,"b":1,"v":48.9},{"a":0.85,"b":1,"v":47.0},{"a":0.9,"b":1,"v":45.0},{"a":0.95,"b":1,"v":42.9},{"a":1,"b":1,"v":40.7},
{"a":-1,"b":-0.95,"v":59.3},{"a":-0.95,"b":-0.95,"v":60.0},{"a":-0.9,"b":-0.95,"v":60.8},{"a":-0.85,"b":-0.95,"v":61.4},{"a":-0.8,"b":-0.95,"v":62.0},{"a":-0.75,"b":-0.95,"v":62.5},{"a":-0.7,"b":-0.95,"v":62.9},{"a":-0.65,"b":-0.95,"v":63.3},{"a":-0.6,"b":-0.95,"v":63.5},{"a":-0.55,"b":-0.95,"v":63.7},{"a":-0.5,"b":-0.95,"v":63.9},{"a":-0.45,"b":-0.95,"v":64.0},{"a":-0.4,"b":-0.95,"v":64.0},{"a":-0.35,"b":-0.95,"v":63.9},{"a":-0.3,"b":-0.95,"v":63.7},{"a":-0.25,"b":-0.95,"v":63.5},{"a":-0.2,"b":-0.95,"v":63.2},{"a":-0.15,"b":-0.95,"v":62.9},{"a":-0.1,"b":-0.95,"v":62.5},{"a":-0.05,"b":-0.95,"v":61.9},{"a":0,"b":-0.95,"v":61.4},{"a":0.05,"b":-0.95,"v":60.7},{"a":0.1,"b":-0.95,"v":60.0},{"a":0.15,"b":-0.95,"v":59.2},{"a":0.2,"b":-0.95,"v":58.4},{"a":0.25,"b":-0.95,"v":57.4},{"a":0.3,"b":-0.95,"v":56.4},{"a":0.35,"b":-0.95,"v":55.4},{"a":0.4,"b":-0.95,"v":54.2},{"a":0.45,"b":-0.95,"v":53.0},{"a":0.5,"b":-0.95,"v":51.7},{"a":0.55,"b":-0.95,"v":50.4},{"a":0.6,"b":-0.95,"v":48.9},{"a":0.65,"b":-0.95,"v":47.4},{"a":0.7,"b":-0.95,"v":45.8},{"a":0.75,"b":-0.95,"v":44.2},{"a":0.8,"b":-0.95,"v":42.5},{"a":0.85,"b":-0.95,"v":40.7},{"a":0.9,"b":-0.95,"v":38.8},{"a":0.95,"b":-0.95,"v":36.9},{"a":1,"b":-0.95,"v":34.9},
{"a":-1,"b":-0.85,"v":59.8},{"a":-0.95,"b":-0.85,"v":60.6},{"a":-0.9,"b":-0.85,"v":61.3},{"a":-0.85,"b":-0.85,"v":61.9},{"a":-0.8,"b":-0.85,"v":62.5},{"a":-0.75,"b":-0.85,"v":63.0},{"a":-0.7,"b":-0.85,"v":63.4},{"a":-0.65,"b":-0.85,"v":63.7},{"a":-0.6,"b":-0.85,"v":64.0},{"a":-0.55,"b":-0.85,"v":64.2},{"a":-0.5,"b":-0.85,"v":64.4},{"a":-0.45,"b":-0.85,"v":64.4},{"a":-0.4,"b":-0.85,"v":64.4},{"a":-0.35,"b":-0.85,"v":64.3},{"a":-0.3,"b":-0.85,"v":64.2},{"a":-0.25,"b":-0.85,"v":63.9},{"a":-0.2,"b":-0.85,"v":63.7},{"a":-0.15,"b":-0.85,"v":63.3},{"a":-0.1,"b":-0.85,"v":62.9},{"a":-0.05,"b":-0.85,"v":62.3},{"a":0,"b":-0.85,"v":61.8},{"a":0.05,"b":-0.85,"v":61.1},{"a":0.1,"b":-0.85,"v":60.4},{"a":0.15,"b":-0.85,"v":59.6},{"a":0.2,"b":-0.85,"v":58.7},{"a":0.25,"b":-0.85,"v":57.8},{"a":0.3,"b":-0.85,"v":56.8},{"a":0.35,"b":-0.85,"v":55.7},{"a":0.4,"b":-0.85,"v":54.5},{"a":0.45,"b":-0.85,"v":53.3},{"a":0.5,"b":-0.85,"v":52.0},{"a":0.55,"b":-0.85,"v":50.6},{"a":0.6,"b":-0.85,"v":49.2},{"a":0.65,"b":-0.85,"v":47.7},{"a":0.7,"b":-0.85,"v":46.1},{"a":0.75,"b":-0.85,"v":44.5},{"a":0.8,"b":-0.85,"v":42.7},{"a":0.85,"b":-0.85,"v":41.0},{"a":0.9,"b":-0.85,"v":39.1},{"a":0.95,"b":-0.85,"v":37.1},{"a":1,"b":-0.85,"v":35.1},
{"a":-1,"b":-0.75,"v":60.3},{"a":-0.95,"b":-0.75,"v":61.1},{"a":-0.9,"b":-0.75,"v":61.8},{"a":-0.85,"b":-0.75,"v":62.4},{"a":-0.8,"b":-0.75,"v":63.0},{"a":-0.75,"b":-0.75,"v":63.5},{"a":-0.7,"b":-0.75,"v":63.9},{"a":-0.65,"b":-0.75,"v":64.2},{"a":-0.6,"b":-0.75,"v":64.5},{"a":-0.55,"b":-0.75,"v":64.7},{"a":-0.5,"b":-0.75,"v":64.8},{"a":-0.45,"b":-0.75,"v":64.9},{"a":-0.4,"b":-0.75,"v":64.8},{"a":-0.35,"b":-0.75,"v":64.8},{"a":-0.3,"b":-0.75,"v":64.6},{"a":-0.25,"b":-0.75,"v":64.4},{"a":-0.2,"b":-0.75,"v":64.1},{"a":-0.15,"b":-0.75,"v":63.7},{"a":-0.1,"b":-0.75,"v":63.3},{"a":-0.05,"b":-0.75,"v":62.7},{"a":0,"b":-0.75,"v":62.1},{"a":0.05,"b":-0.75,"v":61.5},{"a":0.1,"b":-0.75,"v":60.8},{"a":0.15,"b":-0.75,"v":60.0},{"a":0.2,"b":-0.75,"v":59.1},{"a":0.25,"b":-0.75,"v":58.1},{"a":0.3,"b":-0.75,"v":57.1},{"a":0.35,"b":-0.75,"v":56.0},{"a":0.4,"b":-0.75,"v":54.9},{"a":0.45,"b":-0.75,"v":53.6},{"a":0.5,"b":-0.75,"v":52.3},{"a":0.55,"b":-0.75,"v":51.0},{"a":0.6,"b":-0.75,"v":49.5},{"a":0.65,"b":-0.75,"v":48.0},{"a":0.7,"b":-0.75,"v":46.4},{"a":0.75,"b":-0.75,"v":44.7},{"a":0.8,"b":-0.75,"v":43.0},{"a":0.85,"b":-0.75,"v":41.2},{"a":0.9,"b":-0.75,"v":39.3},{"a":0.95,"b":-0.75,"v":37.4},{"a":1,"b":-0.75,"v":35.4},
{"a":-1,"b":-0.65,"v":60.9},{"a":-0.95,"b":-0.65,"v":61.6},{"a":-0.9,"b":-0.65,"v":62.3},{"a":-0.85,"b":-0.65,"v":62.9},{"a":-0.8,"b":-0.65,"v":63.5},{"a":-0.75,"b":-0.65,"v":64.0},{"a":-0.7,"b":-0.65,"v":64.4},{"a":-0.65,"b":-0.65,"v":64.7},{"a":-0.6,"b":-0.65,"v":65.0},{"a":-0.55,"b":-0.65,"v":65.2},{"a":-0.5,"b":-0.65,"v":65.3},{"a":-0.45,"b":-0.65,"v":65.3},{"a":-0.4,"b":-0.65,"v":65.3},{"a":-0.35,"b":-0.65,"v":65.2},{"a":-0.3,"b":-0.65,"v":65.0},{"a":-0.25,"b":-0.65,"v":64.8},{"a":-0.2,"b":-0.65,"v":64.5},{"a":-0.15,"b":-0.65,"v":64.1},{"a":-0.1,"b":-0.65,"v":63.7},{"a":-0.05,"b":-0.65,"v":63.1},{"a":0,"b":-0.65,"v":62.5},{"a":0.05,"b":-0.65,"v":61.9},{"a":0.1,"b":-0.65,"v":61.1},{"a":0.15,"b":-0.65,"v":60.3},{"a":0.2,"b":-0.65,"v":59.4},{"a":0.25,"b":-0.65,"v":58.5},{"a":0.3,"b":-0.65,"v":57.5},{"a":0.35,"b":-0.65,"v":56.4},{"a":0.4,"b":-0.65,"v":55.2},{"a":0.45,"b":-0.65,"v":54.0},{"a":0.5,"b":-0.65,"v":52.7},{"a":0.55,"b":-0.65,"v":51.3},{"a":0.6,"b":-0.65,"v":49.8},{"a":0.65,"b":-0.65,"v":48.3},{"a":0.7,"b":-0.65,"v":46.7},{"a":0.75,"b":-0.65,"v":45.0},{"a":0.8,"b":-0.65,"v":43.3},{"a":0.85,"b":-0.65,"v":41.5},{"a":0.9,"b":-0.65,"v":39.6},{"a":0.95,"b":-0.65,"v":37.6},{"a":1,"b":-0.65,"v":35.6},
{"a":-1,"b":-0.55,"v":61.4},{"a":-0.95,"b":-0.55,"v":62.2},{"a":-0.9,"b":-0.55,"v":62.9},{"a":-0.85,"b":-0.55,"v":63.5},{"a":-0.8,"b":-0.55,"v":64.0},{"a":-0.75,"b":-0.55,"v":64.5},{"a":-0.7,"b":-0.55,"v":64.9},{"a":-0.65,"b":-0.55,"v":65.2},{"a":-0.6,"b":-0.55,"v":65.5},{"a":-0.55,"b":-0.55,"v":65.6},{"a":-0.5,"b":-0.55,"v":65.8},{"a":-0.45,"b":-0.55,"v":65.8},{"a":-0.4,"b":-0.55,"v":65.8},{"a":-0.35,"b":-0.55,"v":65.7},{"a":-0.3,"b":-0.55,"v":65.5},{"a":-0.25,"b":-0.55,"v":65.2},{"a":-0.2,"b":-0.55,"v":64.9},{"a":-0.15,"b":-0.55,"v":64.5},{"a":-0.1,"b":-0.55,"v":64.1},{"a":-0.05,"b":-0.55,"v":63.5},{"a":0,"b":-0.55,"v":62.9},{"a":0.05,"b":-0.55,"v":62.3},{"a":0.1,"b":-0.55,"v":61.5},{"a":0.15,"b":-0.55,"v":60.7},{"a":0.2,"b":-0.55,"v":59.8},{"a":0.25,"b":-0.55,"v":58.9},{"a":0.3,"b":-0.55,"v":57.8},{"a":0.35,"b":-0.55,"v":56.7},{"a":0.4,"b":-0.55,"v":55.5},{"a":0.45,"b":-0.55,"v":54.3},{"a":0.5,"b":-0.55,"v":53.0},{"a":0.55,"b":-0.55,"v":51.6},{"a":0.6,"b":-0.55,"v":50.1},{"a":0.65,"b":-0.55,"v":48.6},{"a":0.7,"b":-0.55,"v":47.0},{"a":0.75,"b":-0.55,"v":45.3},{"a":0.8,"b":-0.55,"v":43.6},{"a":0.85,"b":-0.55,"v":41.8},{"a":0.9,"b":-0.55,"v":39.9},{"a":0.95,"b":-0.55,"v":37.9},{"a":1,"b":-0.55,"v":35.9},
{"a":-1,"b":-0.45,"v":62.0},{"a":-0.95,"b":-0.45,"v":62.7},{"a":-0.9,"b":-0.45,"v":63.4},{"a":-0.85,"b":-0.45,"v":64.0},{"a":-0.8,"b":-0.45,"v":64.5},{"a":-0.75,"b":-0.45,"v":65.0},{"a":-0.7,"b":-0.45,"v":65.4},{"a":-0.65,"b":-0.45,"v":65.7},{"a":-0.6,"b":-0.45,"v":66.0},{"a":-0.55,"b":-0.45,"v":66.1},{"a":-0.5,"b":-0.45,"v":66.2},{"a":-0.45,"b":-0.45,"v":66.3},{"a":-0.4,"b":-0.45,"v":66.2},{"a":-0.35,"b":-0.45,"v":66.1},{"a":-0.3,"b":-0.45,"v":65.9},{"a":-0.25,"b":-0.45,"v":65.7},{"a":-0.2,"b":-0.45,"v":65.4},{"a":-0.15,"b":-0.45,"v":65.0},{"a":-0.1,"b":-0.45,"v":64.5},{"a":-0.05,"b":-0.45,"v":64.0},{"a":0,"b":-0.45,"v":63.4},{"a":0.05,"b":-0.45,"v":62.7},{"a":0.1,"b":-0.45,"v":61.9},{"a":0.15,"b":-0.45,"v":61.1},{"a":0.2,"b":-0.45,"v":60.2},{"a":0.25,"b":-0.45,"v":59.2},{"a":0.3,"b":-0.45,"v":58.2},{"a":0.35,"b":-0.45,"v":57.1},{"a":0.4,"b":-0.45,"v":55.9},{"a":0.45,"b":-0.45,"v":54.6},{"a":0.5,"b":-0.45,"v":53.3},{"a":0.55,"b":-0.45,"v":51.9},{"a":0.6,"b":-0.45,"v":50.4},{"a":0.65,"b":-0.45,"v":48.9},{"a":0.7,"b":-0.45,"v":47.3},{"a":0.75,"b":-0.45,"v":45.6},{"a":0.8,"b":-0.45,"v":43.9},{"a":0.85,"b":-0.45,"v":42.0},{"a":0.9,"b":-0.45,"v":40.1},{"a":0.95,"b":-0.45,"v":38.2},{"a":1,"b":-0.45,"v":36.1},
{"a":-1,"b":-0.35,"v":62.5},{"a":-0.95,"b":-0.35,"v":63.3},{"a":-0.9,"b":-0.35,"v":64.0},{"a":-0.85,"b":-0.35,"v":64.6},{"a":-0.8,"b":-0.35,"v":65.1},{"a":-0.75,"b":-0.35,"v":65.5},{"a":-0.7,"b":-0.35,"v":65.9},{"a":-0.65,"b":-0.35,"v":66.2},{"a":-0.6,"b":-0.35,"v":66.5},{"a":-0.55,"b":-0.35,"v":66.6},{"a":-0.5,"b":-0.35,"v":66.7},{"a":-0.45,"b":-0.35,"v":66.8},{"a":-0.4,"b":-0.35,"v":66.7},{"a":-0.35,"b":-0.35,"v":66.6},{"a":-0.3,"b":-0.35,"v":66.4},{"a":-0.25,"b":-0.35,"v":66.1},{"a":-0.2,"b":-0.35,"v":65.8},{"a":-0.15,"b":-0.35,"v":65.4},{"a":-0.1,"b":-0.35,"v":64.9},{"a":-0.05,"b":-0.35,"v":64.4},{"a":0,"b":-0.35,"v":63.8},{"a":0.05,"b":-0.35,"v":63.1},{"a":0.1,"b":-0.35,"v":62.3},{"a":0.15,"b":-0.35,"v":61.5},{"a":0.2,"b":-0.35,"v":60.6},{"a":0.25,"b":-0.35,"v":59.6},{"a":0.3,"b":-0.35,"v":58.6},{"a":0.35,"b":-0.35,"v":57.4},{"a":0.4,"b":-0.35,"v":56.3},{"a":0.45,"b":-0.35,"v":55.0},{"a":0.5,"b":-0.35,"v":53.7},{"a":0.55,"b":-0.35,"v":52.2},{"a":0.6,"b":-0.35,"v":50.8},{"a":0.65,"b":-0.35,"v":49.2},{"a":0.7,"b":-0.35,"v":47.6},{"a":0.75,"b":-0.35,"v":45.9},{"a":0.8,"b":-0.35,"v":44.2},{"a":0.85,"b":-0.35,"v":42.3},{"a":0.9,"b":-0.35,"v":40.4},{"a":0.95,"b":-0.35,"v":38.4},{"a":1,"b":-0.35,"v":36.4},
{"a":-1,"b":-0.25,"v":63.1},{"a":-0.95,"b":-0.25,"v":63.8},{"a":-0.9,"b":-0.25,"v":64.5},{"a":-0.85,"b":-0.25,"v":65.1},{"a":-0.8,"b":-0.25,"v":65.6},{"a":-0.75,"b":-0.25,"v":66.1},{"a":-0.7,"b":-0.25,"v":66.4},{"a":-0.65,"b":-0.25,"v":66.8},{"a":-0.6,"b":-0.25,"v":67.0},{"a":-0.55,"b":-0.25,"v":67.1},{"a":-0.5,"b":-0.25,"v":67.2},{"a":-0.45,"b":-0.25,"v":67.2},{"a":-0.4,"b":-0.25,"v":67.2},{"a":-0.35,"b":-0.25,"v":67.1},{"a":-0.3,"b":-0.25,"v":66.9},{"a":-0.25,"b":-0.25,"v":66.6},{"a":-0.2,"b":-0.25,"v":66.3},{"a":-0.15,"b":-0.25,"v":65.9},{"a":-0.1,"b":-0.25,"v":65.4},{"a":-0.05,"b":-0.25,"v":64.8},{"a":0,"b":-0.25,"v":64.2},{"a":0.05,"b":-0.25,"v":63.5},{"a":0.1,"b":-0.25,"v":62.7},{"a":0.15,"b":-0.25,"v":61.9},{"a":0.2,"b":-0.25,"v":61.0},{"a":0.25,"b":-0.25,"v":60.0},{"a":0.3,"b":-0.25,"v":58.9},{"a":0.35,"b":-0.25,"v":57.8},{"a":0.4,"b":-0.25,"v":56.6},{"a":0.45,"b":-0.25,"v":55.3},{"a":0.5,"b":-0.25,"v":54.0},{"a":0.55,"b":-0.25,"v":52.6},{"a":0.6,"b":-0.25,"v":51.1},{"a":0.65,"b":-0.25,"v":49.6},{"a":0.7,"b":-0.25,"v":47.9},{"a":0.75,"b":-0.25,"v":46.2},{"a":0.8,"b":-0.25,"v":44.5},{"a":0.85,"b":-0.25,"v":42.6},{"a":0.9,"b":-0.25,"v":40.7},{"a":0.95,"b":-0.25,"v":38.7},{"a":1,"b":-0.25,"v":36.7},
{"a":-1,"b":-0.15,"v":63.7},{"a":-0.95,"b":-0.15,"v":64.4},{"a":-0.9,"b":-0.15,"v":65.1},{"a":-0.85,"b":-0.15,"v":65.7},{"a":-0.8,"b":-0.15,"v":66.2},{"a":-0.75,"b":-0.15,"v":66.6},{"a":-0.7,"b":-0.15,"v":67.0},{"a":-0.65,"b":-0.15,"v":67.3},{"a":-0.6,"b":-0.15,"v":67.5},{"a":-0.55,"b":-0.15,"v":67.7},{"a":-0.5,"b":-0.15,"v":67.7},{"a":-0.45,"b":-0.15,"v":67.7},{"a":-0.4,"b":-0.15,"v":67.7},{"a":-0.35,"b":-0.15,"v":67.6},{"a":-0.3,"b":-0.15,"v":67.3},{"a":-0.25,"b":-0.15,"v":67.1},{"a":-0.2,"b":-0.15,"v":66.7},{"a":-0.15,"b":-0.15,"v":66.3},{"a":-0.1,"b":-0.15,"v":65.8},{"a":-0.05,"b":-0.15,"v":65.3},{"a":0,"b":-0.15,"v":64.6},{"a":0.05,"b":-0.15,"v":63.9},{"a":0.1,"b":-0.15,"v":63.1},{"a":0.15,"b":-0.15,"v":62.3},{"a":0.2,"b":-0.15,"v":61.4},{"a":0.25,"b":-0.15,"v":60.4},{"a":0.3,"b":-0.15,"v":59.3},{"a":0.35,"b":-0.15,"v":58.2},{"a":0.4,"b":-0.15,"v":57.0},{"a":0.45,"b":-0.15,"v":55.7},{"a":0.5,"b":-0.15,"v":54.4},{"a":0.55,"b":-0.15,"v":52.9},{"a":0.6,"b":-0.15,"v":51.5},{"a":0.65,"b":-0.15,"v":49.9},{"a":0.7,"b":-0.15,"v":48.3},{"a":0.75,"b":-0.15,"v":46.6},{"a":0.8,"b":-0.15,"v":44.8},{"a":0.85,"b":-0.15,"v":42.9},{"a":0.9,"b":-0.15,"v":41.0},{"a":0.95,"b":-0.15,"v":39.0},{"a":1,"b":-0.15,"v":37.0},
{"a":-1,"b":-0.05,"v":64.3},{"a":-0.95,"b":-0.05,"v":65.0},{"a":-0.9,"b":-0.05,"v":65.7},{"a":-0.85,"b":-0.05,"v":66.2},{"a":-0.8,"b":-0.05,"v":66.7},{"a":-0.75,"b":-0.05,"v":67.2},{"a":-0.7,"b":-0.05,"v":67.5},{"a":-0.65,"b":-0.05,"v":67.8},{"a":-0.6,"b":-0.05,"v":68.0},{"a":-0.55,"b":-0.05,"v":68.2},{"a":-0.5,"b":-0.05,"v":68.3},{"a":-0.45,"b":-0.05,"v":68.3},{"a":-0.4,"b":-0.05,"v":68.2},{"a":-0.35,"b":-0.05,"v":68.1},{"a":-0.3,"b":-0.05,"v":67.8},{"a":-0.25,"b":-0.05,"v":67.6},{"a":-0.2,"b":-0.05,"v":67.2},{"a":-0.15,"b":-0.05,"v":66.8},{"a":-0.1,"b":-0.05,"v":66.3},{"a":-0.05,"b":-0.05,"v":65.7},{"a":0,"b":-0.05,"v":65.1},{"a":0.05,"b":-0.05,"v":64.4},{"a":0.1,"b":-0.05,"v":63.6},{"a":0.15,"b":-0.05,"v":62.7},{"a":0.2,"b":-0.05,"v":61.8},{"a":0.25,"b":-0.05,"v":60.8},{"a":0.3,"b":-0.05,"v":59.7},{"a":0.35,"b":-0.05,"v":58.6},{"a":0.4,"b":-0.05,"v":57.4},{"a":0.45,"b":-0.05,"v":56.1},{"a":0.5,"b":-0.05,"v":54.7},{"a":0.55,"b":-0.05,"v":53.3},{"a":0.6,"b":-0.05,"v":51.8},{"a":0.65,"b":-0.05,"v":50.2},{"a":0.7,"b":-0.05,"v":48.6},{"a":0.75,"b":-0.05,"v":46.9},{"a":0.8,"b":-0.05,"v":45.1},{"a":0.85,"b":-0.05,"v":43.2},{"a":0.9,"b":-0.05,"v":41.3},{"a":0.95,"b":-0.05,"v":39.3},{"a":1,"b":-0.05,"v":37.2},
{"a":-1,"b":0.05,"v":64.9},{"a":-0.95,"b":0.05,"v":65.6},{"a":-0.9,"b":0.05,"v":66.2},{"a":-0.85,"b":0.05,"v":66.8},{"a":-0.8,"b":0.05,"v":67.3},{"a":-0.75,"b":0.05,"v":67.7},{"a":-0.7,"b":0.05,"v":68.1},{"a":-0.65,"b":0.05,"v":68.4},{"a":-0.6,"b":0.05,"v":68.6},{"a":-0.55,"b":0.05,"v":68.7},{"a":-0.5,"b":0.05,"v":68.8},{"a":-0.45,"b":0.05,"v":68.8},{"a":-0.4,"b":0.05,"v":68.7},{"a":-0.35,"b":0.05,"v":68.6},{"a":-0.3,"b":0.05,"v":68.3},{"a":-0.25,"b":0.05,"v":68.0},{"a":-0.2,"b":0.05,"v":67.7},{"a":-0.15,"b":0.05,"v":67.2},{"a":-0.1,"b":0.05,"v":66.7},{"a":-0.05,"b":0.05,"v":66.2},{"a":0,"b":0.05,"v":65.5},{"a":0.05,"b":0.05,"v":64.8},{"a":0.1,"b":0.05,"v":64.0},{"a":0.15,"b":0.05,"v":63.1},{"a":0.2,"b":0.05,"v":62.2},{"a":0.25,"b":0.05,"v":61.2},{"a":0.3,"b":0.05,"v":60.1},{"a":0.35,"b":0.05,"v":59.0},{"a":0.4,"b":0.05,"v":57.8},{"a":0.45,"b":0.05,"v":56.5},{"a":0.5,"b":0.05,"v":55.1},{"a":0.55,"b":0.05,"v":53.7},{"a":0.6,"b":0.05,"v":52.2},{"a":0.65,"b":0.05,"v":50.6},{"a":0.7,"b":0.05,"v":48.9},{"a":0.75,"b":0.05,"v":47.2},{"a":0.8,"b":0.05,"v":45.4},{"a":0.85,"b":0.05,"v":43.6},{"a":0.9,"b":0.05,"v":41.6},{"a":0.95,"b":0.05,"v":39.6},{"a":1,"b":0.05,"v":37.5},
{"a":-1,"b":0.15,"v":65.5},{"a":-0.95,"b":0.15,"v":66.2},{"a":-0.9,"b":0.15,"v":66.8},{"a":-0.85,"b":0.15,"v":67.4},{"a":-0.8,"b":0.15,"v":67.9},{"a":-0.75,"b":0.15,"v":68.3},{"a":-0.7,"b":0.15,"v":68.6},{"a":-0.65,"b":0.15,"v":68.9},{"a":-0.6,"b":0.15,"v":69.1},{"a":-0.55,"b":0.15,"v":69.2},{"a":-0.5,"b":0.15,"v":69.3},{"a":-0.45,"b":0.15,"v":69.3},{"a":-0.4,"b":0.15,"v":69.2},{"a":-0.35,"b":0.15,"v":69.1},{"a":-0.3,"b":0.15,"v":68.8},{"a":-0.25,"b":0.15,"v":68.5},{"a":-0.2,"b":0.15,"v":68.2},{"a":-0.15,"b":0.15,"v":67.7},{"a":-0.1,"b":0.15,"v":67.2},{"a":-0.05,"b":0.15,"v":66.6},{"a":0,"b":0.15,"v":66.0},{"a":0.05,"b":0.15,"v":65.2},{"a":0.1,"b":0.15,"v":64.4},{"a":0.15,"b":0.15,"v":63.6},{"a":0.2,"b":0.15,"v":62.6},{"a":0.25,"b":0.15,"v":61.6},{"a":0.3,"b":0.15,"v":60.5},{"a":0.35,"b":0.15,"v":59.4},{"a":0.4,"b":0.15,"v":58.1},{"a":0.45,"b":0.15,"v":56.8},{"a":0.5,"b":0.15,"v":55.5},{"a":0.55,"b":0.15,"v":54.0},{"a":0.6,"b":0.15,"v":52.5},{"a":0.65,"b":0.15,"v":50.9},{"a":0.7,"b":0.15,"v":49.3},{"a":0.75,"b":0.15,"v":47.6},{"a":0.8,"b":0.15,"v":45.8},{"a":0.85,"b":0.15,"v":43.9},{"a":0.9,"b":0.15,"v":41.9},{"a":0.95,"b":0.15,"v":39.9},{"a":1,"b":0.15,"v":37.8},
{"a":-1,"b":0.25,"v":66.1},{"a":-0.95,"b":0.25,"v":66.8},{"a":-0.9,"b":0.25,"v":67.4},{"a":-0.85,"b":0.25,"v":68.0},{"a":-0.8,"b":0.25,"v":68.5},{"a":-0.75,"b":0.25,"v":68.9},{"a":-0.7,"b":0.25,"v":69.2},{"a":-0.65,"b":0.25,"v":69.5},{"a":-0.6,"b":0.25,"v":69.7},{"a":-0.55,"b":0.25,"v":69.8},{"a":-0.5,"b":0.25,"v":69.8},{"a":-0.45,"b":0.25,"v":69.8},{"a":-0.4,"b":0.25,"v":69.7},{"a":-0.35,"b":0.25,"v":69.6},{"a":-0.3,"b":0.25,"v":69.3},{"a":-0.25,"b":0.25,"v":69.0},{"a":-0.2,"b":0.25,"v":68.7},{"a":-0.15,"b":0.25,"v":68.2},{"a":-0.1,"b":0.25,"v":67.7},{"a":-0.05,"b":0.25,"v":67.1},{"a":0,"b":0.25,"v":66.4},{"a":0.05,"b":0.25,"v":65.7},{"a":0.1,"b":0.25,"v":64.9},{"a":0.15,"b":0.25,"v":64.0},{"a":0.2,"b":0.25,"v":63.1},{"a":0.25,"b":0.25,"v":62.0},{"a":0.3,"b":0.25,"v":61.0},{"a":0.35,"b":0.25,"v":59.8},{"a":0.4,"b":0.25,"v":58.6},{"a":0.45,"b":0.25,"v":57.2},{"a":0.5,"b":0.25,"v":55.9},{"a":0.55,"b":0.25,"v":54.4},{"a":0.6,"b":0.25,"v":52.9},{"a":0.65,"b":0.25,"v":51.3},{"a":0.7,"b":0.25,"v":49.6},{"a":0.75,"b":0.25,"v":47.9},{"a":0.8,"b":0.25,"v":46.1},{"a":0.85,"b":0.25,"v":44.2},{"a":0.9,"b":0.25,"v":42.3},{"a":0.95,"b":0.25,"v":40.2},{"a":1,"b":0.25,"v":38.2},
{"a":-1,"b":0.35,"v":66.7},{"a":-0.95,"b":0.35,"v":67.4},{"a":-0.9,"b":0.35,"v":68.0},{"a":-0.85,"b":0.35,"v":68.6},{"a":-0.8,"b":0.35,"v":69.1},{"a":-0.75,"b":0.35,"v":69.5},{"a":-0.7,"b":0.35,"v":69.8},{"a":-0.65,"b":0.35,"v":70.0},{"a":-0.6,"b":0.35,"v":70.2},{"a":-0.55,"b":0.35,"v":70.3},{"a":-0.5,"b":0.35,"v":70.4},{"a":-0.45,"b":0.35,"v":70.4},{"a":-0.4,"b":0.35,"v":70.3},{"a":-0.35,"b":0.35,"v":70.1},{"a":-0.3,"b":0.35,"v":69.8},{"a":-0.25,"b":0.35,"v":69.5},{"a":-0.2,"b":0.35,"v":69.2},{"a":-0.15,"b":0.35,"v":68.7},{"a":-0.1,"b":0.35,"v":68.2},{"a":-0.05,"b":0.35,"v":67.6},{"a":0,"b":0.35,"v":66.9},{"a":0.05,"b":0.35,"v":66.2},{"a":0.1,"b":0.35,"v":65.3},{"a":0.15,"b":0.35,"v":64.5},{"a":0.2,"b":0.35,"v":63.5},{"a":0.25,"b":0.35,"v":62.5},{"a":0.3,"b":0.35,"v":61.4},{"a":0.35,"b":0.35,"v":60.2},{"a":0.4,"b":0.35,"v":59.0},{"a":0.45,"b":0.35,"v":57.6},{"a":0.5,"b":0.35,"v":56.3},{"a":0.55,"b":0.35,"v":54.8},{"a":0.6,"b":0.35,"v":53.3},{"a":0.65,"b":0.35,"v":51.7},{"a":0.7,"b":0.35,"v":50.0},{"a":0.75,"b":0.35,"v":48.3},{"a":0.8,"b":0.35,"v":46.5},{"a":0.85,"b":0.35,"v":44.6},{"a":0.9,"b":0.35,"v":42.6},{"a":0.95,"b":0.35,"v":40.6},{"a":1,"b":0.35,"v":38.5},
{"a":-1,"b":0.45,"v":67.4},{"a":-0.95,"b":0.45,"v":68.0},{"a":-0.9,"b":0.45,"v":68.6},{"a":-0.85,"b":0.45,"v":69.2},{"a":-0.8,"b":0.45,"v":69.6},{"a":-0.75,"b":0.45,"v":70.0},{"a":-0.7,"b":0.45,"v":70.4},{"a":-0.65,"b":0.45,"v":70.6},{"a":-0.6,"b":0.45,"v":70.8},{"a":-0.55,"b":0.45,"v":70.9},{"a":-0.5,"b":0.45,"v":70.9},{"a":-0.45,"b":0.45,"v":70.9},{"a":-0.4,"b":0.45,"v":70.8},{"a":-0.35,"b":0.45,"v":70.6},{"a":-0.3,"b":0.45,"v":70.4},{"a":-0.25,"b":0.45,"v":70.1},{"a":-0.2,"b":0.45,"v":69.7},{"a":-0.15,"b":0.45,"v":69.2},{"a":-0.1,"b":0.45,"v":68.7},{"a":-0.05,"b":0.45,"v":68.1},{"a":0,"b":0.45,"v":67.4},{"a":0.05,"b":0.45,"v":66.6},{"a":0.1,"b":0.45,"v":65.8},{"a":0.15,"b":0.45,"v":64.9},{"a":0.2,"b":0.45,"v":64.0},{"a":0.25,"b":0.45,"v":62.9},{"a":0.3,"b":0.45,"v":61.8},{"a":0.35,"b":0.45,"v":60.6},{"a":0.4,"b":0.45,"v":59.4},{"a":0.45,"b":0.45,"v":58.1},{"a":0.5,"b":0.45,"v":56.7},{"a":0.55,"b":0.45,"v":55.2},{"a":0.6,"b":0.45,"v":53.7},{"a":0.65,"b":0.45,"v":52.1},{"a":0.7,"b":0.45,"v":50.4},{"a":0.75,"b":0.45,"v":48.6},{"a":0.8,"b":0.45,"v":46.8},{"a":0.85,"b":0.45,"v":44.9},{"a":0.9,"b":0.45,"v":43.0},{"a":0.95,"b":0.45,"v":40.9},{"a":1,"b":0.45,"v":38.8},
{"a":-1,"b":0.55,"v":68.0},{"a":-0.95,"b":0.55,"v":68.7},{"a":-0.9,"b":0.55,"v":69.3},{"a":-0.85,"b":0.55,"v":69.8},{"a":-0.8,"b":0.55,"v":70.3},{"a":-0.75,"b":0.55,"v":70.6},{"a":-0.7,"b":0.55,"v":71.0},{"a":-0.65,"b":0.55,"v":71.2},{"a":-0.6,"b":0.55,"v":71.4},{"a":-0.55,"b":0.55,"v":71.5},{"a":-0.5,"b":0.55,"v":71.5},{"a":-0.45,"b":0.55,"v":71.5},{"a":-0.4,"b":0.55,"v":71.3},{"a":-0.35,"b":0.55,"v":71.2},{"a":-0.3,"b":0.55,"v":70.9},{"a":-0.25,"b":0.55,"v":70.6},{"a":-0.2,"b":0.55,"v":70.2},{"a":-0.15,"b":0.55,"v":69.7},{"a":-0.1,"b":0.55,"v":69.2},{"a":-0.05,"b":0.55,"v":68.5},{"a":0,"b":0.55,"v":67.9},{"a":0.05,"b":0.55,"v":67.1},{"a":0.1,"b":0.55,"v":66.3},{"a":0.15,"b":0.55,"v":65.4},{"a":0.2,"b":0.55,"v":64.4},{"a":0.25,"b":0.55,"v":63.4},{"a":0.3,"b":0.55,"v":62.2},{"a":0.35,"b":0.55,"v":61.1},{"a":0.4,"b":0.55,"v":59.8},{"a":0.45,"b":0.55,"v":58.5},{"a":0.5,"b":0.55,"v":57.1},{"a":0.55,"b":0.55,"v":55.6},{"a":0.6,"b":0.55,"v":54.1},{"a":0.65,"b":0.55,"v":52.4},{"a":0.7,"b":0.55,"v":50.8},{"a":0.75,"b":0.55,"v":49.0},{"a":0.8,"b":0.55,"v":47.2},{"a":0.85,"b":0.55,"v":45.3},{"a":0.9,"b":0.55,"v":43.3},{"a":0.95,"b":0.55,"v":41.3},{"a":1,"b":0.55,"v":39.1},
{"a":-1,"b":0.65,"v":68.6},{"a":-0.95,"b":0.65,"v":69.3},{"a":-0.9,"b":0.65,"v":69.9},{"a":-0.85,"b":0.65,"v":70.4},{"a":-0.8,"b":0.65,"v":70.9},{"a":-0.75,"b":0.65,"v":71.2},{"a":-0.7,"b":0.65,"v":71.5},{"a":-0.65,"b":0.65,"v":71.8},{"a":-0.6,"b":0.65,"v":72.0},{"a":-0.55,"b":0.65,"v":72.0},{"a":-0.5,"b":0.65,"v":72.1},{"a":-0.45,"b":0.65,"v":72.0},{"a":-0.4,"b":0.65,"v":71.9},{"a":-0.35,"b":0.65,"v":71.7},{"a":-0.3,"b":0.65,"v":71.4},{"a":-0.25,"b":0.65,"v":71.1},{"a":-0.2,"b":0.65,"v":70.7},{"a":-0.15,"b":0.65,"v":70.2},{"a":-0.1,"b":0.65,"v":69.7},{"a":-0.05,"b":0.65,"v":69.0},{"a":0,"b":0.65,"v":68.4},{"a":0.05,"b":0.65,"v":67.6},{"a":0.1,"b":0.65,"v":66.8},{"a":0.15,"b":0.65,"v":65.9},{"a":0.2,"b":0.65,"v":64.9},{"a":0.25,"b":0.65,"v":63.8},{"a":0.3,"b":0.65,"v":62.7},{"a":0.35,"b":0.65,"v":61.5},{"a":0.4,"b":0.65,"v":60.2},{"a":0.45,"b":0.65,"v":58.9},{"a":0.5,"b":0.65,"v":57.5},{"a":0.55,"b":0.65,"v":56.0},{"a":0.6,"b":0.65,"v":54.5},{"a":0.65,"b":0.65,"v":52.8},{"a":0.7,"b":0.65,"v":51.1},{"a":0.75,"b":0.65,"v":49.4},{"a":0.8,"b":0.65,"v":47.5},{"a":0.85,"b":0.65,"v":45.6},{"a":0.9,"b":0.65,"v":43.7},{"a":0.95,"b":0.65,"v":41.6},{"a":1,"b":0.65,"v":39.5},
{"a":-1,"b":0.75,"v":69.3},{"a":-0.95,"b":0.75,"v":69.9},{"a":-0.9,"b":0.75,"v":70.5},{"a":-0.85,"b":0.75,"v":71.0},{"a":-0.8,"b":0.75,"v":71.5},{"a":-0.75,"b":0.75,"v":71.9},{"a":-0.7,"b":0.75,"v":72.2},{"a":-0.65,"b":0.75,"v":72.4},{"a":-0.6,"b":0.75,"v":72.5},{"a":-0.55,"b":0.75,"v":72.6},{"a":-0.5,"b":0.75,"v":72.6},{"a":-0.45,"b":0.75,"v":72.6},{"a":-0.4,"b":0.75,"v":72.5},{"a":-0.35,"b":0.75,"v":72.3},{"a":-0.3,"b":0.75,"v":72.0},{"a":-0.25,"b":0.75,"v":71.6},{"a":-0.2,"b":0.75,"v":71.2},{"a":-0.15,"b":0.75,"v":70.7},{"a":-0.1,"b":0.75,"v":70.2},{"a":-0.05,"b":0.75,"v":69.6},{"a":0,"b":0.75,"v":68.9},{"a":0.05,"b":0.75,"v":68.1},{"a":0.1,"b":0.75,"v":67.2},{"a":0.15,"b":0.75,"v":66.3},{"a":0.2,"b":0.75,"v":65.3},{"a":0.25,"b":0.75,"v":64.3},{"a":0.3,"b":0.75,"v":63.1},{"a":0.35,"b":0.75,"v":62.0},{"a":0.4,"b":0.75,"v":60.7},{"a":0.45,"b":0.75,"v":59.3},{"a":0.5,"b":0.75,"v":57.9},{"a":0.55,"b":0.75,"v":56.4},{"a":0.6,"b":0.75,"v":54.9},{"a":0.65,"b":0.75,"v":53.2},{"a":0.7,"b":0.75,"v":51.5},{"a":0.75,"b":0.75,"v":49.8},{"a":0.8,"b":0.75,"v":47.9},{"a":0.85,"b":0.75,"v":46.0},{"a":0.9,"b":0.75,"v":44.0},{"a":0.95,"b":0.75,"v":42.0},{"a":1,"b":0.75,"v":39.8},
{"a":-1,"b":0.85,"v":69.9},{"a":-0.95,"b":0.85,"v":70.6},{"a":-0.9,"b":0.85,"v":71.2},{"a":-0.85,"b":0.85,"v":71.7},{"a":-0.8,"b":0.85,"v":72.1},{"a":-0.75,"b":0.85,"v":72.5},{"a":-0.7,"b":0.85,"v":72.8},{"a":-0.65,"b":0.85,"v":73.0},{"a":-0.6,"b":0.85,"v":73.1},{"a":-0.55,"b":0.85,"v":73.2},{"a":-0.5,"b":0.85,"v":73.2},{"a":-0.45,"b":0.85,"v":73.2},{"a":-0.4,"b":0.85,"v":73.0},{"a":-0.35,"b":0.85,"v":72.8},{"a":-0.3,"b":0.85,"v":72.5},{"a":-0.25,"b":0.85,"v":72.2},{"a":-0.2,"b":0.85,"v":71.8},{"a":-0.15,"b":0.85,"v":71.3},{"a":-0.1,"b":0.85,"v":70.7},{"a":-0.05,"b":0.85,"v":70.1},{"a":0,"b":0.85,"v":69.4},{"a":0.05,"b":0.85,"v":68.6},{"a":0.1,"b":0.85,"v":67.7},{"a":0.15,"b":0.85,"v":66.8},{"a":0.2,"b":0.85,"v":65.8},{"a":0.25,"b":0.85,"v":64.8},{"a":0.3,"b":0.85,"v":63.6},{"a":0.35,"b":0.85,"v":62.4},{"a":0.4,"b":0.85,"v":61.1},{"a":0.45,"b":0.85,"v":59.8},{"a":0.5,"b":0.85,"v":58.4},{"a":0.55,"b":0.85,"v":56.9},{"a":0.6,"b":0.85,"v":55.3},{"a":0.65,"b":0.85,"v":53.7},{"a":0.7,"b":0.85,"v":51.9},{"a":0.75,"b":0.85,"v":50.2},{"a":0.8,"b":0.85,"v":48.3},{"a":0.85,"b":0.85,"v":46.4},{"a":0.9,"b":0.85,"v":44.4},{"a":0.95,"b":0.85,"v":42.3},{"a":1,"b":0.85,"v":40.2},
{"a":-1,"b":0.95,"v":70.6},{"a":-0.95,"b":0.95,"v":71.2},{"a":-0.9,"b":0.95,"v":71.8},{"a":-0.85,"b":0.95,"v":72.3},{"a":-0.8,"b":0.95,"v":72.7},{"a":-0.75,"b":0.95,"v":73.1},{"a":-0.7,"b":0.95,"v":73.4},{"a":-0.65,"b":0.95,"v":73.6},{"a":-0.6,"b":0.95,"v":73.7},{"a":-0.55,"b":0.95,"v":73.8},{"a":-0.5,"b":0.95,"v":73.8},{"a":-0.45,"b":0.95,"v":73.7},{"a":-0.4,"b":0.95,"v":73.6},{"a":-0.35,"b":0.95,"v":73.4},{"a":-0.3,"b":0.95,"v":73.1},{"a":-0.25,"b":0.95,"v":72.7},{"a":-0.2,"b":0.95,"v":72.3},{"a":-0.15,"b":0.95,"v":71.8},{"a":-0.1,"b":0.95,"v":71.2},{"a":-0.05,"b":0.95,"v":70.6},{"a":0,"b":0.95,"v":69.9},{"a":0.05,"b":0.95,"v":69.1},{"a":0.1,"b":0.95,"v":68.2},{"a":0.15,"b":0.95,"v":67.3},{"a":0.2,"b":0.95,"v":66.3},{"a":0.25,"b":0.95,"v":65.2},{"a":0.3,"b":0.95,"v":64.1},{"a":0.35,"b":0.95,"v":62.9},{"a":0.4,"b":0.95,"v":61.6},{"a":0.45,"b":0.95,"v":60.2},{"a":0.5,"b":0.95,"v":58.8},{"a":0.55,"b":0.95,"v":57.3},{"a":0.6,"b":0.95,"v":55.7},{"a":0.65,"b":0.95,"v":54.1},{"a":0.7,"b":0.95,"v":52.4},{"a":0.75,"b":0.95,"v":50.6},{"a":0.8,"b":0.95,"v":48.7},{"a":0.85,"b":0.95,"v":46.8},{"a":0.9,"b":0.95,"v":44.8},{"a":0.95,"b":0.95,"v":42.7},{"a":1,"b":0.95,"v":40.6}
]},
"hconcat":[
{
"width":167.5,"height":130,
"data":{"name":"notes"},
"encoding":{
"x":{"datum":0,"type":"quantitative","scale":{"domain":[0,1]},"axis":null},
"y":{"field":"line","type":"quantitative","scale":{"domain":[1.843,13.825],"reverse":true,"nice":false,"zero":false},"axis":null}
},
"layer":[
{"transform":[{"filter":"datum.kind == 'head'"}],"mark":{"type":"text","align":"left","baseline":"middle","dx":13,"fontSize":9.5,"color":"#000000"},"encoding":{"text":{"field":"txt"}}},
{"transform":[{"filter":"datum.kind == 'dp'"}],"mark":{"type":"text","align":"left","baseline":"middle","dx":27,"fontSize":9.5,"color":"#e00000"},"encoding":{"text":{"field":"txt"}}},
{"transform":[{"filter":"datum.kind == 'dp'"}],"mark":{"type":"text","align":"center","baseline":"middle","dx":19,"fontSize":8,"color":"#900000"},"encoding":{"text":{"value":"●"}}},
{"transform":[{"filter":"datum.kind == 'var'"}],"mark":{"type":"text","align":"left","baseline":"middle","dx":16,"fontSize":9.5,"color":"#000000"},"encoding":{"text":{"field":"txt"}}}
]
},
{
"width":306,"height":306,
"view":{"stroke":"#404040","strokeWidth":2},
"title":{"text":"CDR at 1 min (%)","fontSize":18.5,"fontWeight":"normal","color":"#000000","offset":5,"frame":"group"},
"encoding":{
"x":{"field":"a","type":"quantitative","scale":{"domain":[-1,1],"nice":false,"zero":false},"axis":{"values":[-1,-0.5,0,0.5,1],"labelExpr":"'' + datum.value","title":"A: Concentration of Polymer (%)","titleFontSize":12,"titleFontWeight":"normal","titleColor":"#000000","titlePadding":32,"labelFontSize":10,"labelColor":"#333333","tickSize":5,"tickColor":"#555555","labelPadding":3,"domain":false,"grid":false,"labelFlush":false}},
"y":{"field":"b","type":"quantitative","scale":{"domain":[-1,1],"nice":false,"zero":false},"axis":{"values":[-1,-0.5,0,0.5,1],"labelExpr":"'' + datum.value","title":"B: Concentration of  plasticizer (%)","titleFontSize":12,"titleFontWeight":"normal","titleColor":"#000000","titlePadding":27.5,"labelFontSize":10,"labelColor":"#333333","tickSize":5,"tickColor":"#555555","labelPadding":3,"domain":false,"grid":false,"labelFlush":false}}
},
"layer":[
{"data":{"name":"grid"},"mark":{"type":"rect","width":8,"height":8.2,"clip":true},
"encoding":{"color":{"field":"v","type":"quantitative","scale":{"domain":[35.12,44.27,53.42,62.57,71.72],"range":["#0000ff","#00ffff","#00ff00","#ffff00","#ff0000"],"interpolate":"rgb","clamp":true},
"legend":{"orient":"none","legendX":18,"legendY":18.3,"title":null,"direction":"vertical","gradientLength":30,"gradientThickness":5,"values":[35.12,71.72],"format":".2f","labelFontSize":9.5,"labelOffset":3,"padding":0,"gradientStrokeColor":"#000000","gradientStrokeWidth":1,"encode":{"labels":{"update":{"fill":{"signal":"datum.value > 50 ? '#e00000' : '#3030ff'"}}}}}}}},
{"data":{"name":"contours"},"mark":{"type":"line","color":"#000000","strokeWidth":1,"clip":true},"encoding":{"detail":{"field":"lvl"},"order":{"field":"i","type":"quantitative"}}},
{"data":{"name":"labels"},"mark":{"type":"rect","width":14,"height":11,"fill":"#ffffff","stroke":"#000000","strokeWidth":0.8}},
{"data":{"name":"labels"},"mark":{"type":"text","fontSize":9.5,"color":"#000000","align":"center","baseline":"middle","dy":0.5},"encoding":{"text":{"field":"t"}}},
{"data":{"name":"design"},"mark":{"type":"point","filled":true,"fill":"#c00000","stroke":"#000000","strokeWidth":0.8,"size":45,"opacity":1}}
]
}
]
}
